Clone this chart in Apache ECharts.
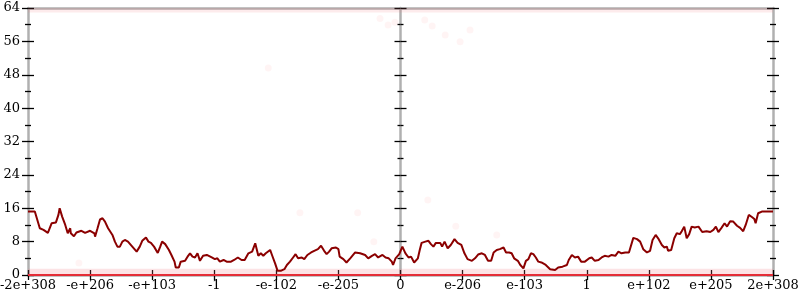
<!DOCTYPE html>
<html><head><meta charset="utf-8">
<script src="https://cdn.jsdelivr.net/npm/echarts@6/dist/echarts.min.js"></script>
<style>html,body{margin:0;padding:0;background:#fff}#c{width:800px;height:300px}</style>
</head><body><div id="c"></div>
<script>
// ---- data ----
const xTickLabels = ['-2e+308','-e+206','-e+103','-1','-e-102','-e-205','0','e-206','e-103','1','e+102','e+205','2e+308'];
const xMin = -6, xMax = 6, xStep = 1;
const yMin = 0, yMax = 64, yStep = 8;

const lineX = [-6.00,-5.89,-5.86,-5.81,-5.75,-5.68,-5.62,-5.55,-5.51,-5.49,-5.45,-5.40,-5.36,-5.32,-5.31,-5.26,-5.22,-5.14,-5.08,-5.00,
-4.93,-4.92,-4.88,-4.84,-4.80,-4.76,-4.71,-4.64,-4.60,-4.56,-4.52,-4.48,-4.44,-4.39,-4.32,-4.25,-4.20,-4.16,-4.10,-4.06,
-4.02,-3.97,-3.91,-3.87,-3.84,-3.79,-3.73,-3.69,-3.64,-3.62,-3.57,-3.54,-3.47,-3.43,-3.39,-3.35,-3.31,-3.27,-3.23,-3.18,
-3.12,-3.04,-2.99,-2.95,-2.91,-2.85,-2.80,-2.73,-2.68,-2.62,-2.56,-2.51,-2.45,-2.39,-2.34,-2.29,-2.25,-2.21,-2.17,-2.14,
-2.10,-2.07,-2.02,-1.98,-1.93,-1.87,-1.83,-1.78,-1.73,-1.69,-1.65,-1.59,-1.55,-1.50,-1.44,-1.39,-1.33,-1.28,-1.23,-1.19,
-1.15,-1.11,-1.04,-1.00,-0.98,-0.92,-0.87,-0.81,-0.73,-0.65,-0.57,-0.52,-0.46,-0.41,-0.36,-0.29,-0.24,-0.19,-0.14,-0.12,
-0.08,-0.02,0.03,0.06,0.08,0.13,0.17,0.22,0.28,0.31,0.34,0.40,0.45,0.49,0.53,0.57,0.64,0.67,0.71,0.76,
0.81,0.87,0.92,0.98,1.03,1.08,1.15,1.20,1.25,1.31,1.36,1.41,1.46,1.50,1.55,1.60,1.66,1.70,1.75,1.79,
1.83,1.89,1.93,1.98,2.02,2.06,2.10,2.14,2.18,2.22,2.27,2.34,2.41,2.49,2.54,2.61,2.68,2.71,2.76,2.81,
2.86,2.91,2.97,3.04,3.08,3.13,3.19,3.24,3.29,3.35,3.40,3.46,3.51,3.56,3.62,3.68,3.71,3.75,3.81,3.86,
3.91,3.97,4.02,4.06,4.11,4.15,4.21,4.25,4.29,4.31,4.36,4.41,4.45,4.50,4.53,4.57,4.61,4.65,4.69,4.74,
4.80,4.86,4.93,4.99,5.04,5.08,5.12,5.17,5.22,5.26,5.31,5.36,5.42,5.47,5.52,5.56,5.61,5.66,5.70,5.72,
5.76,5.82,5.87,6.00];
const lineY = [15.2,15.2,14.8,11.2,10.8,10.1,12.4,12.6,14.4,16.0,14.0,12.0,10.0,11.2,10.0,9.3,10.2,10.6,10.1,10.6,
10.0,9.2,11.2,13.3,13.6,12.8,11.2,9.6,8.0,6.8,6.8,8.0,8.4,8.0,6.8,5.6,6.8,8.2,9.0,8.0,
7.7,6.8,5.3,6.8,8.0,7.4,6.0,4.8,3.2,1.8,1.8,3.2,3.4,4.4,5.2,4.4,4.2,5.2,3.4,4.6,
4.8,4.2,3.8,4.0,3.2,3.6,3.2,3.2,3.6,4.2,3.6,3.6,5.2,5.6,7.6,4.6,5.2,4.6,5.2,4.8,
6.0,4.8,2.8,1.0,1.0,1.4,2.4,3.2,4.2,5.0,4.0,4.2,3.8,4.8,5.4,5.8,6.2,7.0,5.8,5.0,
5.6,6.4,6.6,6.2,4.4,3.8,3.0,4.0,5.4,5.2,4.8,4.0,4.6,5.0,4.2,4.8,4.2,4.0,3.2,2.4,
4.0,5.0,6.8,6.8,5.2,4.2,4.4,3.0,4.0,6.0,7.7,8.0,8.2,7.4,6.8,7.7,7.7,6.8,8.0,6.4,
7.2,8.6,7.7,7.2,5.2,3.8,3.4,4.0,4.9,5.2,4.8,3.4,3.4,5.4,6.0,6.2,6.6,5.4,5.4,5.2,
4.0,3.4,2.4,1.6,3.4,3.8,5.2,5.0,4.2,3.2,3.0,2.4,1.4,1.2,1.8,2.0,2.4,3.6,4.8,4.2,
4.4,3.2,3.2,4.0,4.2,3.4,3.6,4.2,4.6,4.4,4.8,4.6,5.6,5.2,5.4,5.4,5.2,8.9,8.6,8.0,
6.2,5.4,5.8,8.4,9.6,8.8,7.2,6.6,6.8,5.8,6.0,8.8,10.0,9.8,10.5,11.6,8.8,9.8,11.6,11.4,
11.6,10.3,10.5,10.3,10.8,11.6,10.3,11.3,12.4,11.6,12.9,12.8,11.8,11.3,10.5,12.0,14.4,13.9,13.4,12.4,
14.8,15.2,15.2,15.2];

// faint individual samples
const dotX = [-5.18,-1.62,-0.69,-0.43,0.44,0.89,1.55,-2.13,-0.33,-0.20,-0.09,0.39,0.51,0.72,0.96,1.12];
const dotY = [2.9,14.9,14.9,8.0,18.0,11.7,9.6,49.6,61.5,59.9,60.6,61.1,59.7,57.5,55.9,58.7];

// clamped samples at the bounds (floor and ceiling bands)
const bandX = [-6, 6];
const floorY = [0, 0];
const floorHaloY = [1.5, 1.5];
const ceilHaloY = [62.9, 62.9];

// ---- chart ----
const FONT = 'DejaVu Serif';
const GRAY = '#b0b0b0';
const TICK = {color:'#000', width:1.3};

function yAxisDef(position, inside, onZero, withLine, withLabel){
  return {
    type:'value', min:yMin, max:yMax, interval:yStep, position:position,
    splitLine:{show:false},
    axisLine:{show:withLine, onZero:onZero, onZeroAxisIndex:onZero?0:undefined, lineStyle:{color:GRAY, width:2.5}},
    axisTick:{show:true, inside:inside, length:6, lineStyle:TICK},
    minorTick:{show:true, splitNumber:2, length:3, lineStyle:TICK},
    axisLabel:{show:withLabel, color:'#000', fontFamily:FONT, fontSize:13, margin:8}
  };
}
function xAxisDef(position, inside, withLine, withTick, withLabel){
  return {
    type:'value', min:xMin, max:xMax, interval:xStep, position:position,
    splitLine:{show:false},
    axisLine:{show:withLine, onZero:false, lineStyle:{color:GRAY, width:2.5}},
    axisTick:{show:withTick, inside:inside, length:5, lineStyle:TICK},
    axisLabel:{show:withLabel, color:'#000', fontFamily:FONT, fontSize:13, margin:4,
      formatter:function(v){ return xTickLabels[Math.round((v - xMin)/xStep)]; }}
  };
}

const chart = echarts.init(document.getElementById('c'), null, {renderer:'canvas'});
chart.setOption({
  animation:false,
  backgroundColor:'#fff',
  grid:{left:28, right:27, top:8, bottom:25, outerBoundsMode:'none', containLabel:false},
  xAxis:[
    xAxisDef('bottom', false, true, true, true),
    xAxisDef('bottom', true, false, true, false),
    xAxisDef('top', false, true, false, false)
  ],
  yAxis:[
    yAxisDef('left', false, false, true, true),
    yAxisDef('left', true, false, false, false),
    yAxisDef('left', false, true, true, false),
    yAxisDef('left', true, true, false, false),
    yAxisDef('right', false, false, true, false),
    yAxisDef('right', true, false, false, false)
  ],
  series:[
    {type:'line', silent:true, symbol:'none', data:bandX.map((x,i)=>[x,floorHaloY[i]]),
     lineStyle:{width:0, opacity:0}, areaStyle:{color:'rgba(240,110,120,0.28)'}, z:1},
    {type:'line', silent:true, symbol:'none', data:bandX.map((x,i)=>[x,ceilHaloY[i]]),
     lineStyle:{width:0, opacity:0}, areaStyle:{color:'rgba(240,110,120,0.2)', origin:'end'}, z:1},
    {type:'scatter', silent:true, symbolSize:7, data:dotX.map((x,i)=>[x,dotY[i]]),
     itemStyle:{color:'rgba(255,0,0,0.055)'}, z:2},
    {type:'line', silent:true, symbol:'none', data:bandX.map((x,i)=>[x,floorY[i]]),
     lineStyle:{width:2, color:'rgb(228,45,55)'}, z:3},
    {type:'line', silent:true, symbol:'none', data:lineX.map((x,i)=>[x,lineY[i]]),
     lineStyle:{width:2, color:'#8b0000'}, z:4}
  ]
});
</script></body></html>
